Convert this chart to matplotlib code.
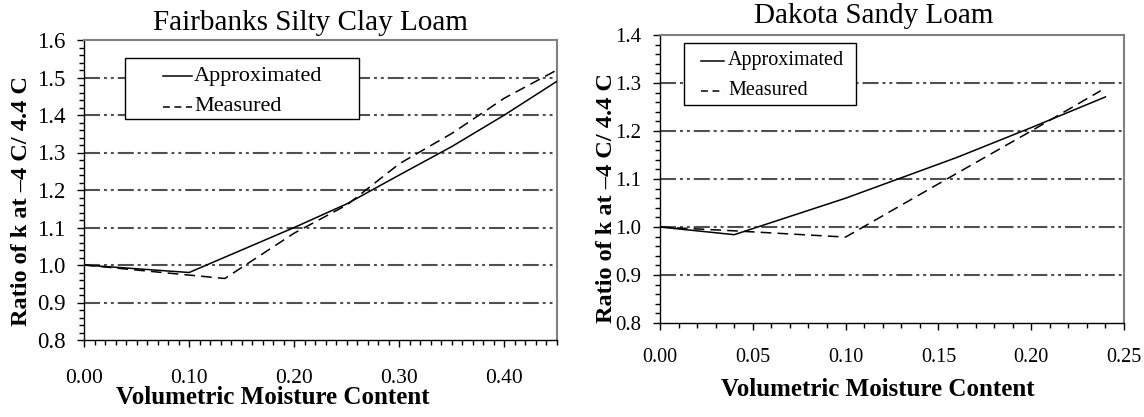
import matplotlib
matplotlib.use("Agg")
import matplotlib.pyplot as plt
from matplotlib.patches import Rectangle
from matplotlib.ticker import MultipleLocator, FormatStrFormatter

plt.rcParams['font.family'] = ['Liberation Serif', 'DejaVu Serif']

# ---------------- data ----------------
fair_title = "Fairbanks Silty Clay Loam"
fair_approx_x = [0.00, 0.10, 0.20, 0.25, 0.30, 0.35, 0.40, 0.45]
fair_approx_y = [1.00, 0.98, 1.10, 1.163, 1.24, 1.316, 1.40, 1.49]
fair_meas_x = [0.00, 0.134, 0.20, 0.25, 0.30, 0.35, 0.40, 0.45]
fair_meas_y = [1.00, 0.964, 1.085, 1.16, 1.27, 1.351, 1.445, 1.52]

dak_title = "Dakota Sandy Loam"
dak_approx_x = [0.00, 0.04, 0.10, 0.16, 0.20, 0.24]
dak_approx_y = [1.00, 0.984, 1.06, 1.145, 1.207, 1.271]
dak_meas_x = [0.00, 0.04, 0.10, 0.16, 0.20, 0.2375]
dak_meas_y = [1.00, 0.992, 0.979, 1.112, 1.20, 1.284]

series_labels = ["Approximated", "Measured"]
x_label = "Volumetric Moisture Content"
y_label = "Ratio of k at \u20134 C/ 4.4 C"

W, H = 1144, 417
fig = plt.figure(figsize=(W / 100, H / 100), dpi=100)


def px_axes(l, t, r, b):
    return fig.add_axes([l / W, 1 - b / H, (r - l) / W, (b - t) / H])


GRID_COLOR = '#505050'
GRID_LS = (0, (7.7, 1.9, 1.4, 1.9, 1.4, 1.9))


def style_axes(ax, xlim, ylim, xmaj, ymaj, xfmt, xtick_fs, ytick_fs, xpad):
    ax.set_xlim(*xlim)
    ax.set_ylim(*ylim)
    ax.xaxis.set_major_locator(MultipleLocator(xmaj))
    ax.xaxis.set_minor_locator(MultipleLocator(0.01))
    ax.yaxis.set_major_locator(MultipleLocator(ymaj))
    ax.yaxis.set_minor_locator(MultipleLocator(0.02))
    ax.xaxis.set_major_formatter(FormatStrFormatter(xfmt))
    ax.yaxis.set_major_formatter(FormatStrFormatter('%.1f'))
    ax.tick_params(axis='both', which='major', direction='out', length=5,
                   width=1, color='black')
    ax.tick_params(axis='both', which='minor', direction='out', length=3.6,
                   width=1, color='black')
    ax.tick_params(axis='x', which='major', pad=xpad, labelsize=xtick_fs)
    ax.tick_params(axis='y', which='major', pad=8.5, labelsize=ytick_fs)
    for s in ['left', 'bottom']:
        ax.spines[s].set_color('black')
        ax.spines[s].set_linewidth(1.0)
    for s in ['top', 'right']:
        ax.spines[s].set_color('#808080')
        ax.spines[s].set_linewidth(1.5)
    # horizontal grid at interior major ticks
    lo, hi = ylim
    n = int(round((hi - lo) / ymaj))
    for i in range(1, n):
        ax.axhline(lo + i * ymaj, color=GRID_COLOR, lw=1.5, ls=GRID_LS, zorder=1)


def manual_legend(ax, box, h0, h1, tx, rows, fs):
    x0, y0, x1, y1 = box
    ax.add_patch(Rectangle((x0, y0), x1 - x0, y1 - y0, transform=ax.transAxes,
                           facecolor='white', edgecolor='black', lw=1.0,
                           zorder=5, clip_on=False))
    styles = ['-', (0, (4.5, 3.0))]
    for lab, ry, st in zip(series_labels, rows, styles):
        ax.plot([h0, h1], [ry, ry], transform=ax.transAxes, color='black',
                lw=1.1, ls=st, zorder=6, clip_on=False)
        ax.text(tx, ry, lab, transform=ax.transAxes, fontsize=fs,
                ha='left', va='center', zorder=7)


# ---------------- left: Fairbanks ----------------
ax1 = px_axes(84, 40, 557, 340)
style_axes(ax1, (0, 0.45), (0.8, 1.6), 0.10, 0.1, '%.2f', 15.5, 16.5, 16)
ax1.plot(fair_approx_x, fair_approx_y, color='black', lw=1.1, zorder=3)
ax1.plot(fair_meas_x, fair_meas_y, color='black', lw=1.1,
         ls=(0, (7, 4)), zorder=3)
manual_legend(ax1, (0.087, 0.737, 0.581, 0.94), 0.167, 0.228, 0.233,
              (0.88, 0.777), 16)

fig.text(310 / W, 1 - 30 / H, fair_title, fontsize=21, ha='center', va='baseline')
fig.text(273 / W, 1 - 397.5 / H, x_label, fontsize=18, fontweight='bold',
         ha='center', va='center')
fig.text(21.5 / W, 1 - 201 / H, y_label, fontsize=17.5, fontweight='bold',
         ha='center', va='center', rotation=90)

# ---------------- right: Dakota ----------------
ax2 = px_axes(660, 35, 1124, 323)
style_axes(ax2, (0, 0.25), (0.8, 1.4), 0.05, 0.1, '%.2f', 14.5, 15, 13)
ax2.plot(dak_approx_x, dak_approx_y, color='black', lw=1.1, zorder=3)
ax2.plot(dak_meas_x, dak_meas_y, color='black', lw=1.1,
         ls=(0, (7, 4)), zorder=3)
manual_legend(ax2, (0.052, 0.757, 0.422, 0.972), 0.088, 0.138, 0.147,
              (0.91, 0.807), 14.5)

fig.text(874 / W, 1 - 23 / H, dak_title, fontsize=21, ha='center', va='baseline')
fig.text(878 / W, 1 - 389 / H, x_label, fontsize=18, fontweight='bold',
         ha='center', va='center')
fig.text(607 / W, 1 - 198 / H, y_label, fontsize=17.5, fontweight='bold',
         ha='center', va='center', rotation=90)

fig.savefig('out.png', dpi=100, facecolor='white')
